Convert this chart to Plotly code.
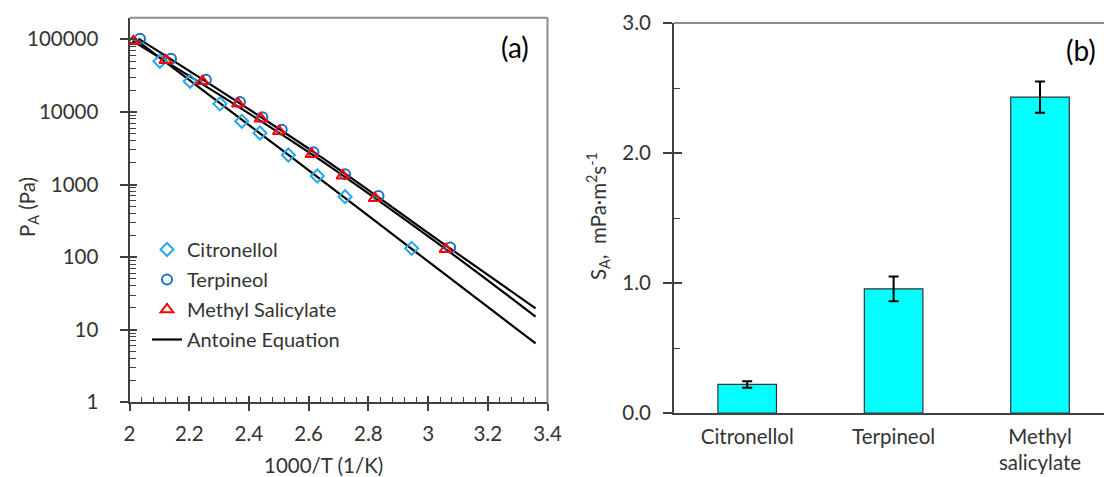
import plotly.graph_objects as go

# ---------------- data: panel (a) ----------------
cit_x = [2.102, 2.203, 2.303, 2.376, 2.437, 2.532, 2.629, 2.722, 2.945]
cit_p = [49800, 26400, 12900, 7420, 5120, 2550, 1310, 679, 132]

ter_x = [2.035, 2.139, 2.256, 2.370, 2.445, 2.510, 2.616, 2.722, 2.834, 3.074]
ter_p = [101900, 54000, 27800, 13700, 8430, 5690, 2780, 1380, 695, 136]

ms_x = [2.013, 2.121, 2.244, 2.364, 2.440, 2.501, 2.610, 2.714, 2.822, 3.059]
ms_p = [93800, 51400, 26400, 12900, 8050, 5400, 2610, 1320, 646, 128]

# Antoine equation lines
ant_cit_x = [2.02, 2.53, 2.945, 3.36]
ant_cit_p = [100000, 2600, 130, 6.5]
ant_ter_x = [2.03, 2.62, 3.07, 3.36]
ant_ter_p = [102000, 2750, 135, 19.7]
ant_ms_x = [2.01, 2.61, 3.06, 3.36]
ant_ms_p = [95000, 2620, 128, 15.1]

y_tickvals = [1, 10, 100, 1000, 10000, 100000]
y_ticktext = ["1", "10", "100", "1000", "10000", "100000"]

# ---------------- data: panel (b) ----------------
bar_cats = ["Citronellol", "Terpineol", "Methyl<br>salicylate"]
bar_vals = [0.22, 0.955, 2.43]
bar_err = [0.025, 0.095, 0.12]

W, H = 1104, 477
FONT = "Lato"
FS = 20.5
TXT = "#333333"
AX = "#404040"


def px_x(p):
    return p / W


def px_y(p):
    return 1 - p / H


fig = go.Figure()

# Antoine lines
fig.add_trace(go.Scatter(x=ant_cit_x, y=ant_cit_p, mode="lines", line=dict(color="black", width=2.2, shape="spline"),
                         name="Antoine Equation", legendgroup="g4", legendrank=4, showlegend=True))
fig.add_trace(go.Scatter(x=ant_ter_x, y=ant_ter_p, mode="lines", line=dict(color="black", width=2.2, shape="spline"),
                         legendgroup="g4", showlegend=False))
fig.add_trace(go.Scatter(x=ant_ms_x, y=ant_ms_p, mode="lines", line=dict(color="black", width=2.2, shape="spline"),
                         legendgroup="g4", showlegend=False))

# markers
fig.add_trace(go.Scatter(x=ter_x, y=ter_p, mode="markers", name="Terpineol", legendgroup="g2", legendrank=2,
                         marker=dict(symbol="circle-open", size=10, color="#1f6fc5", line=dict(width=2, color="#1f6fc5"))))
fig.add_trace(go.Scatter(x=cit_x, y=cit_p, mode="markers", name="Citronellol", legendgroup="g1", legendrank=1,
                         marker=dict(symbol="diamond-open", size=10, color="#27a8e6", line=dict(width=2, color="#27a8e6"))))
fig.add_trace(go.Scatter(x=ms_x, y=ms_p, mode="markers", name="Methyl Salicylate", legendgroup="g3", legendrank=3,
                         marker=dict(symbol="triangle-up-open", size=11, color="#ff0000", line=dict(width=2, color="#ff0000"))))

# bars
fig.add_trace(go.Bar(x=bar_cats, y=bar_vals, xaxis="x2", yaxis="y2", width=0.4, showlegend=False,
                     marker=dict(color="#00ffff", line=dict(color="#333333", width=1.2)),
                     error_y=dict(type="data", array=bar_err, color="black", thickness=2, width=5)))

# dummy traces to activate overlay tick axes
fig.add_trace(go.Scatter(x=[None], y=[None], xaxis="x3", yaxis="y", showlegend=False, hoverinfo="skip"))
fig.add_trace(go.Scatter(x=[None], y=[None], xaxis="x", yaxis="y3", showlegend=False, hoverinfo="skip"))
fig.add_trace(go.Bar(x=[None], y=[None], xaxis="x2", yaxis="y4", showlegend=False, hoverinfo="skip"))

xdom_a = [px_x(129.5), px_x(547.5)]
ydom_a = [px_y(402.3), px_y(17.7)]
xdom_b = [px_x(674), 1.0]
ydom_b = [px_y(413), px_y(23)]

tickfont = dict(family=FONT, size=FS, color=TXT)

fig.update_layout(
    width=W, height=H, margin=dict(l=0, r=0, t=0, b=0, autoexpand=False),
    paper_bgcolor="white", plot_bgcolor="white",
    font=dict(family=FONT, size=FS, color=TXT),
    showlegend=True,
    legend=dict(x=px_x(147), y=px_y(230), xanchor="left", yanchor="top", bgcolor="rgba(0,0,0,0)",
                font=dict(family=FONT, size=20, color=TXT), traceorder="grouped", tracegroupgap=1,
                itemwidth=30),
    xaxis=dict(domain=xdom_a, anchor="y", range=[2, 3.4], dtick=0.2, tick0=2, showgrid=False, zeroline=False,
               automargin=False,
               showline=True, linecolor=AX, linewidth=2, ticks="outside", ticklen=7, tickwidth=1.5, tickcolor=AX,
               minor=dict(ticks="inside", dtick=0.04, tick0=2, ticklen=5, tickwidth=1.2, tickcolor=AX),
               tickfont=tickfont, ticklabelstandoff=5),
    yaxis=dict(domain=ydom_a, anchor="x", type="log", range=[0, 5.2975], showgrid=False, zeroline=False,
               automargin=False,
               tickvals=y_tickvals, ticktext=y_ticktext,
               showline=True, linecolor=AX, linewidth=2, ticks="outside", ticklen=8, tickwidth=1.5, tickcolor=AX,
               minor=dict(ticks="inside", dtick="D1", ticklen=6, tickwidth=1.2, tickcolor=AX),
               tickfont=tickfont, ticklabelstandoff=17),
    xaxis3=dict(overlaying="x", anchor="y", range=[2, 3.4], dtick=0.2, tick0=2, showgrid=False, zeroline=False,
                automargin=False,
                showline=False, ticks="inside", ticklen=6, tickwidth=1.5, tickcolor=AX, showticklabels=False),
    yaxis3=dict(overlaying="y", anchor="x", type="log", range=[0, 5.2975], showgrid=False, zeroline=False,
                automargin=False,
                tickvals=y_tickvals, showline=False, ticks="inside", ticklen=7, tickwidth=1.5, tickcolor=AX,
                showticklabels=False),
    xaxis2=dict(domain=xdom_b, anchor="y2", type="category", range=[-0.5, 2.437], showgrid=False, zeroline=False,
                automargin=False,
                showline=True, linecolor=AX, linewidth=2, ticks="", tickfont=tickfont, ticklabelstandoff=4),
    yaxis2=dict(domain=ydom_b, anchor="x2", range=[0, 3.0], dtick=1, tickformat=".1f", showgrid=False,
                automargin=False,
                zeroline=False, showline=True, linecolor=AX, linewidth=2, ticks="outside", ticklen=9,
                tickwidth=1.5, tickcolor=AX,
                minor=dict(ticks="inside", dtick=0.5, ticklen=6, tickwidth=1.2, tickcolor=AX),
                tickfont=tickfont, ticklabelstandoff=8),
    yaxis4=dict(overlaying="y2", anchor="x2", range=[0, 3.0], dtick=1, showgrid=False, zeroline=False,
                automargin=False,
                showline=False, ticks="inside", ticklen=8, tickwidth=1.5, tickcolor=AX, showticklabels=False),
    shapes=[
        dict(type="line", xref="x domain", yref="y domain", x0=0, x1=1, y0=1, y1=1,
             line=dict(color="#8c8c8c", width=2)),
        dict(type="line", xref="x domain", yref="y domain", x0=1, x1=1, y0=0, y1=1,
             line=dict(color="#8c8c8c", width=2)),
        dict(type="line", xref="x2 domain", yref="y2 domain", x0=0, x1=1, y0=1, y1=1,
             line=dict(color="#8c8c8c", width=2)),
    ],
    annotations=[
        dict(text="(a)", x=px_x(515), y=px_y(47), xref="paper", yref="paper", showarrow=False,
             xanchor="center", yanchor="middle", font=dict(family=FONT, size=28, color="black")),
        dict(text="(b)", x=px_x(1081), y=px_y(50), xref="paper", yref="paper", showarrow=False,
             xanchor="center", yanchor="middle", font=dict(family=FONT, size=28, color="black")),
        dict(text="P<sub>A</sub> (Pa)", x=px_x(28), y=px_y(207), xref="paper", yref="paper", showarrow=False,
             xanchor="center", yanchor="middle", textangle=-90, font=dict(family=FONT, size=FS, color=TXT)),
        dict(text="1000/T (1/K)", x=px_x(323), y=px_y(465), xref="paper", yref="paper", showarrow=False,
             xanchor="center", yanchor="middle", font=dict(family=FONT, size=FS, color=TXT)),
        dict(text="S<sub>A</sub>,  mPa·m<sup>2</sup>s<sup>-1</sup>", x=px_x(598), y=px_y(216), xref="paper",
             yref="paper", showarrow=False, xanchor="center", yanchor="middle", textangle=-90,
             font=dict(family=FONT, size=FS, color=TXT)),
    ],
)

fig.write_html("out.html", config={"displayModeBar": False},
               post_script="document.body.style.margin='0px';document.body.style.overflow='hidden';")
